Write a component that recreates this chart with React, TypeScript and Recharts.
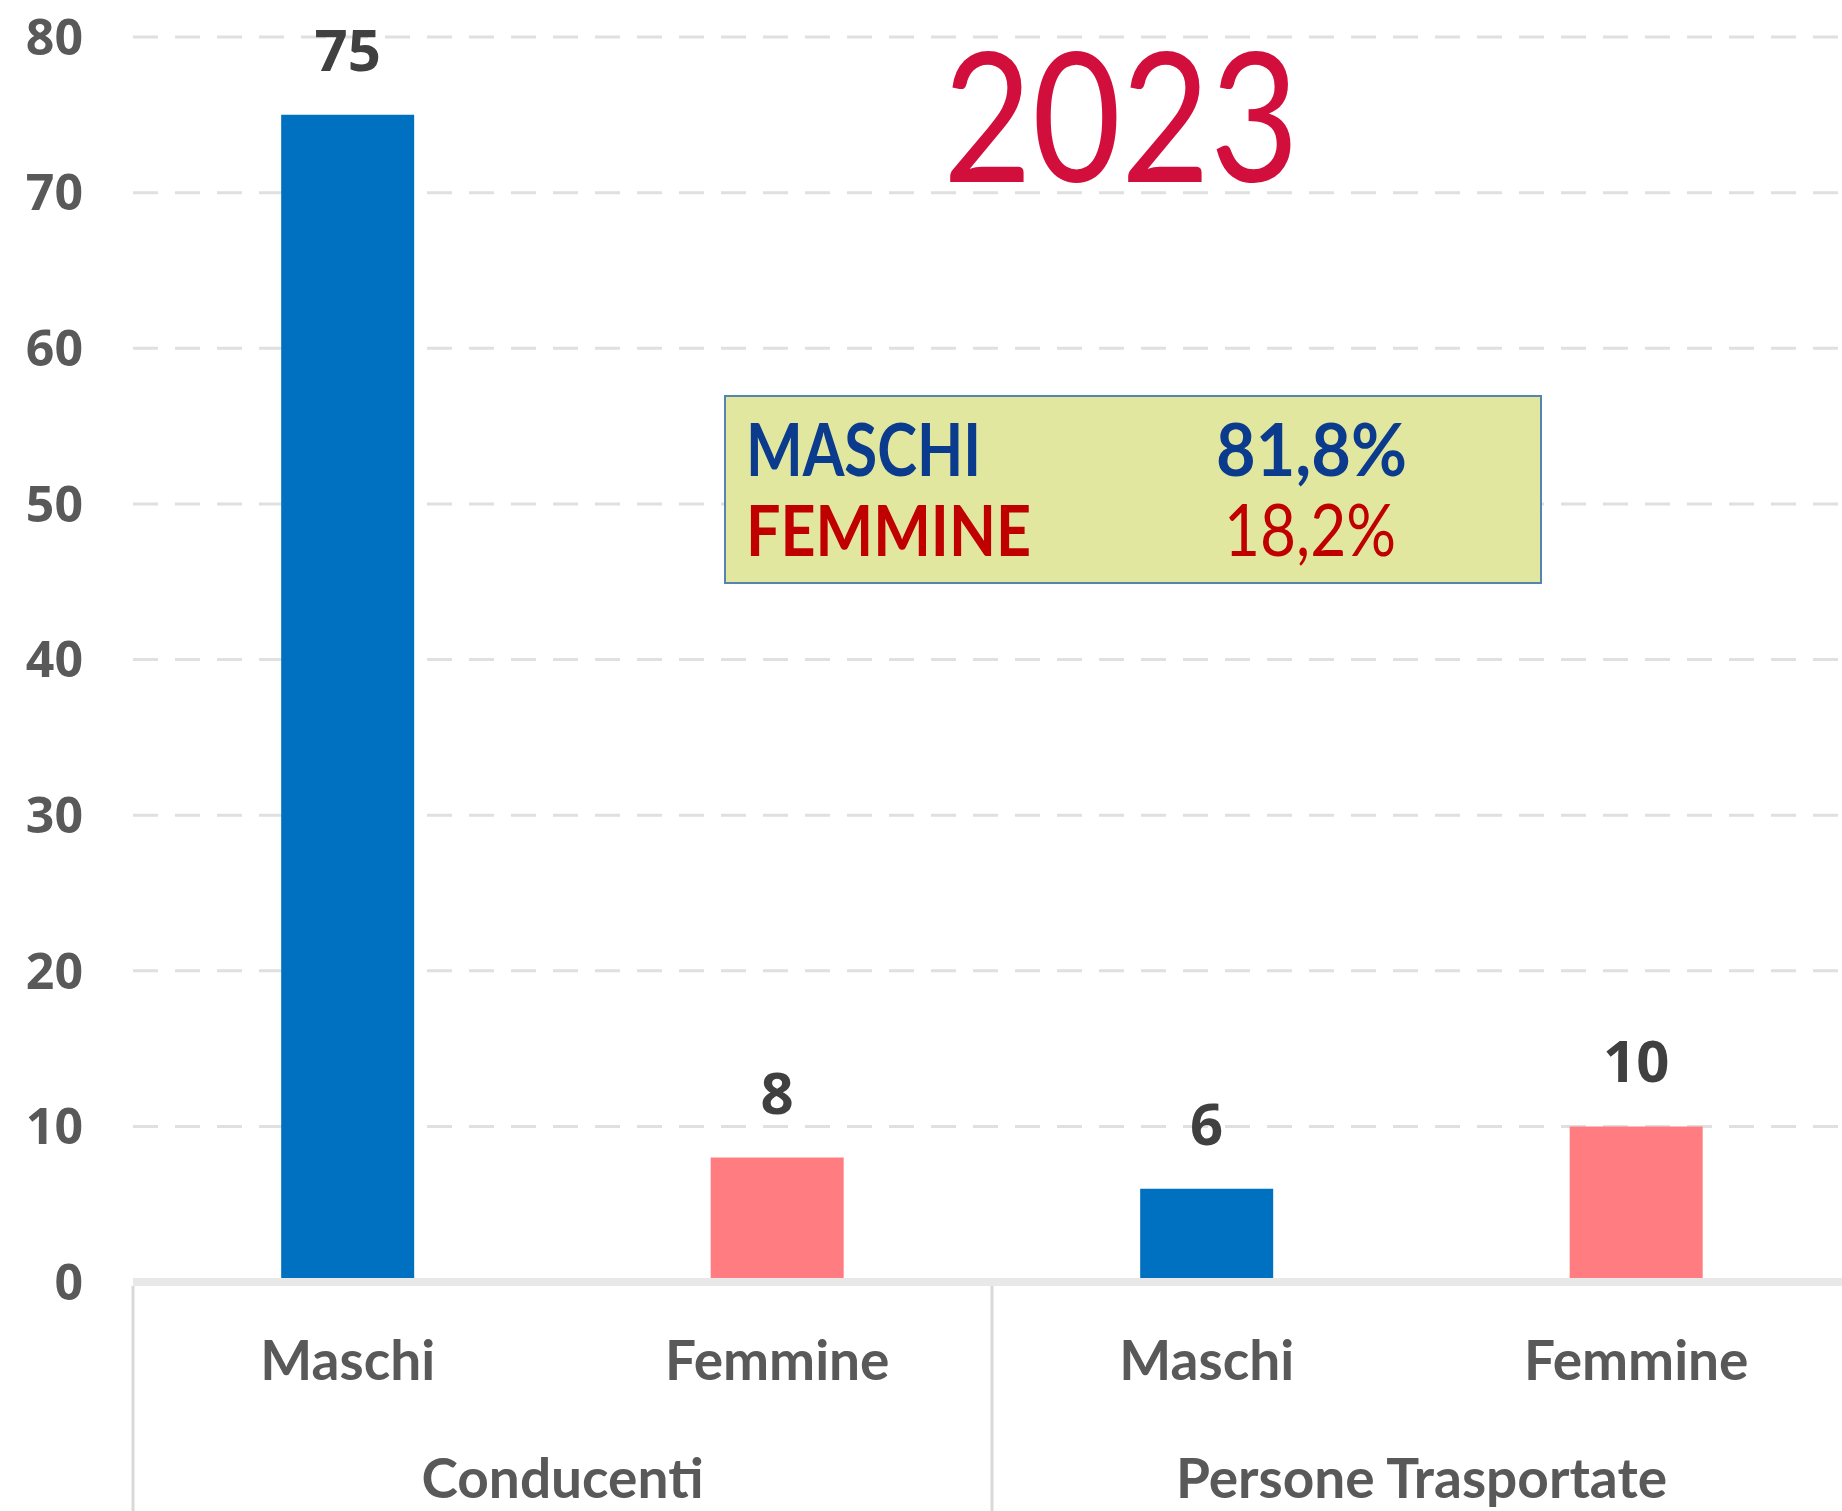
import {
  BarChart,
  Bar,
  XAxis,
  YAxis,
  CartesianGrid,
  Cell,
  LabelList,
} from 'recharts';

const groups = ['Conducenti', 'Conducenti', 'Persone Trasportate', 'Persone Trasportate'];
const genders = ['Maschi', 'Femmine', 'Maschi', 'Femmine'];
const values = [75, 8, 6, 10];
const barColors = ['#0070C0', '#FF7C80', '#0070C0', '#FF7C80'];
const yTicks = [0, 10, 20, 30, 40, 50, 60, 70, 80];
const yearLabel = '2023';
const shareNames = ['MASCHI', 'FEMMINE'];
const shareValues = ['81,8%', '18,2%'];

const W = 1842;
const H = 1511;
const MARGIN = { top: 37, right: -9, left: 0, bottom: 0 };
const Y_AXIS_W = 133;
const X_AXIS_H = 229;
const BAND = (W - Y_AXIS_W - MARGIN.left - MARGIN.right) / values.length;

const GRAY = '#595959';

const data = values.map((v, i) => ({
  key: `${groups[i]}-${genders[i]}`,
  gender: genders[i],
  group: groups[i],
  value: v,
}));

function CategoryTick(props: any) {
  const { x, y, payload } = props;
  const i = payload.index as number;
  const first = i === 0 || groups[i] !== groups[i - 1];
  const top = y - 2;
  return (
    <g>
      <text
        x={x}
        y={y + 92}
        textAnchor="middle"
        fill={GRAY}
        fontFamily="Lato"
        fontWeight={700}
        fontSize={55}
      >
        {genders[i]}
      </text>
      {first && (
        <>
          <line x1={x - BAND / 2} x2={x - BAND / 2} y1={top} y2={H} stroke="#d9d9d9" strokeWidth={3} />
          <text
            x={x + BAND / 2}
            y={y + 210}
            textAnchor="middle"
            fill={GRAY}
            fontFamily="Lato"
            fontWeight={700}
            fontSize={55}
          >
            {groups[i]}
          </text>
        </>
      )}
    </g>
  );
}

export default function App() {
  return (
    <div style={{ position: 'fixed', left: 0, top: 0, width: W, height: H, background: '#fff', overflow: 'hidden' }}>
      <BarChart width={W} height={H} data={data} margin={MARGIN} barCategoryGap="34.5%">
        <CartesianGrid
          vertical={false}
          stroke="#e0e0e0"
          strokeWidth={3}
          strokeDasharray="25 17"
        />
        <XAxis
          dataKey="key"
          height={X_AXIS_H}
          axisLine={{ stroke: '#e8e8e8', strokeWidth: 8 }}
          tickLine={false}
          tickMargin={0}
          interval={0}
          tick={<CategoryTick />}
        />
        <YAxis
          width={Y_AXIS_W}
          domain={[0, 80]}
          ticks={yTicks}
          interval={0}
          axisLine={false}
          tickLine={false}
          tickMargin={44}
          tick={{ fill: GRAY, fontSize: 50, fontWeight: 700, fontFamily: 'Open Sans' }}
        />
        <Bar dataKey="value" isAnimationActive={false}>
          {data.map((_, i) => (
            <Cell key={i} fill={barColors[i]} />
          ))}
          <LabelList
            dataKey="value"
            position="top"
            offset={44}
            fill="#404040"
            fontSize={58}
            fontWeight={700}
            fontFamily="Open Sans"
          />
        </Bar>
      </BarChart>
      <svg
        width={W}
        height={H}
        style={{ position: 'absolute', left: 0, top: 0, pointerEvents: 'none' }}
      >
        <text
          x={943}
          y={182}
          fill="#D20F3C"
          fontFamily="Lato"
          fontSize={180}
          textLength={356}
          lengthAdjust="spacingAndGlyphs"
        >
          {yearLabel}
        </text>
        <rect x={725} y={396} width={816} height={187} fill="#E2E79F" stroke="#5585AE" strokeWidth={2} />
        <text x={746} y={476} fill="#0B3B8C" fontFamily="Lato" fontWeight={700} fontSize={73}
          textLength={235} lengthAdjust="spacingAndGlyphs">
          {shareNames[0]}
        </text>
        <text x={1216} y={476} fill="#0B3B8C" fontFamily="Lato" fontWeight={700} fontSize={73}
          textLength={191} lengthAdjust="spacingAndGlyphs">
          {shareValues[0]}
        </text>
        <text x={746} y={556} fill="#C00000" fontFamily="Lato" fontWeight={700} fontSize={71}
          textLength={285} lengthAdjust="spacingAndGlyphs">
          {shareNames[1]}
        </text>
        <text x={1224} y={556} fill="#C00000" fontFamily="Lato" fontWeight={400} fontSize={71}
          textLength={172} lengthAdjust="spacingAndGlyphs">
          {shareValues[1]}
        </text>
      </svg>
    </div>
  );
}
